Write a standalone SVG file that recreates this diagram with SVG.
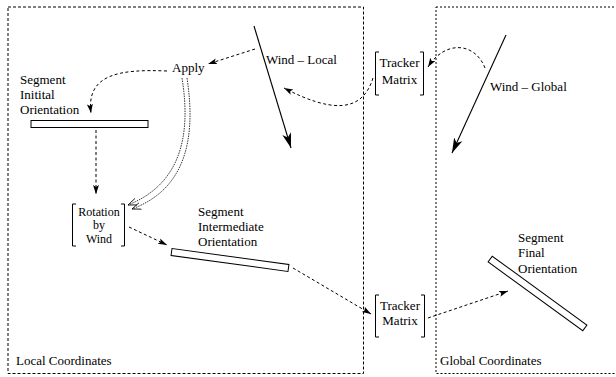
<svg xmlns="http://www.w3.org/2000/svg" width="616" height="377" viewBox="0 0 616 377">
<style>
text{font-family:'Liberation Serif','Times New Roman',Times,serif;font-size:13px;fill:#000}
.frame{fill:none;stroke:#000;stroke-width:1}
.local{stroke-dasharray:3,2}
.global{stroke-dasharray:2,2}
.dash{fill:none;stroke:#000;stroke-width:1;stroke-dasharray:3,2.5}
.dot{fill:none;stroke:#000;stroke-width:0.8;stroke-dasharray:1.5,1}
.wind{fill:none;stroke:#000;stroke-width:1.1}
.bar{fill:#fff;stroke:#000;stroke-width:1}
.br{fill:none;stroke:#000;stroke-width:1}
.tight{font-size:12px}
</style>
<defs>
<marker id="ah" markerUnits="userSpaceOnUse" markerWidth="10" markerHeight="8" viewBox="0 0 10 8" refX="9" refY="4" orient="auto">
<path d="M0,1 L9,4 L0,7 L2,4 Z" fill="#000"/>
</marker>
<marker id="big" markerUnits="userSpaceOnUse" markerWidth="16" markerHeight="10" viewBox="0 0 16 10" refX="15" refY="5" orient="auto">
<path d="M0,0.5 L15,5 L0,9.5 L4,5 Z" fill="#000"/>
</marker>
<marker id="open" markerUnits="userSpaceOnUse" markerWidth="10" markerHeight="8" viewBox="0 0 10 8" refX="9" refY="4" orient="auto">
<path d="M0,0.5 L9,4 L0,7.5" fill="none" stroke="#000" stroke-width="0.8"/>
</marker>
</defs>

<g font-family="Liberation Serif, Times New Roman, serif">
<g id="local-frame">
<rect class="frame local" x="8" y="7" width="355.5" height="366.5"/>
<text x="16" y="365">Local Coordinates</text>
</g>
<g id="global-frame">
<rect class="frame global" x="436" y="7" width="190" height="366.5"/>
<text x="440" y="365">Global Coordinates</text>
</g>

<g id="wind-local">
<line class="wind" x1="254" y1="26" x2="291" y2="148" marker-end="url(#big)"/>
<text x="266" y="64">Wind – Local</text>
</g>
<g id="wind-global">
<line class="wind" x1="506" y1="35" x2="452" y2="153" marker-end="url(#big)"/>
<text x="490" y="91">Wind – Global</text>
</g>

<g id="apply">
<text x="172" y="72">Apply</text>
</g>

<g id="segment-initial">
<text x="20" y="84">Segment</text>
<text x="20" y="99">Initital</text>
<text x="20" y="114">Orientation</text>
<rect class="bar" x="31" y="120.5" width="117" height="7"/>
</g>

<g id="rotation">
<path class="br" d="M76,204 H72.5 V246 H76"/>
<path class="br" d="M121,204 H124.5 V246 H121"/>
<text class="tight" x="99" y="215.5" text-anchor="middle">Rotation</text>
<text class="tight" x="99" y="229" text-anchor="middle">by</text>
<text class="tight" x="99" y="242.5" text-anchor="middle">Wind</text>
</g>

<g id="segment-intermediate">
<text x="198" y="216">Segment</text>
<text x="198" y="231">Intermediate</text>
<text x="198" y="246">Orientation</text>
<rect class="bar" x="-59" y="-3.5" width="118" height="7" transform="translate(230,260) rotate(7.8)"/>
</g>

<g id="tracker-upper">
<path class="br" d="M379,52 H375.5 V95 H379"/>
<path class="br" d="M420,52 H423.5 V95 H420"/>
<text x="399.5" y="67" text-anchor="middle">Tracker</text>
<text x="399.5" y="84" text-anchor="middle">Matrix</text>
</g>

<g id="tracker-lower">
<path class="br" d="M379,295 H375.5 V337 H379"/>
<path class="br" d="M421,295 H424.5 V337 H421"/>
<text x="400" y="310" text-anchor="middle">Tracker</text>
<text x="400" y="325" text-anchor="middle">Matrix</text>
</g>

<g id="segment-final">
<text x="518" y="242">Segment</text>
<text x="518" y="257">Final</text>
<text x="518" y="273">Orientation</text>
<rect class="bar" x="-58.5" y="-3.5" width="117" height="7" transform="translate(537.5,293.5) rotate(36)"/>
</g>
</g>

<g id="connectors">
<path class="dash" d="M255,49 L208,64" marker-end="url(#ah)"/>
<path class="dash" d="M167,71 C120,69 86,74 91,113" marker-end="url(#ah)"/>
<path class="dot" d="M182,78 C192,140 178,185 128,205" marker-end="url(#open)"/>
<path class="dot" d="M187,78 C197,143 183,190 132,209" marker-end="url(#open)"/>
<path class="dash" d="M96,130 L96,194" marker-end="url(#ah)"/>
<path class="dash" d="M129,227 L167,245" marker-end="url(#ah)"/>
<path class="dash" d="M293,268 L371,314" marker-end="url(#ah)"/>
<path class="dash" d="M428,318 L508,291" marker-end="url(#ah)"/>
<path class="dash" d="M373,78 C362,114 330,112 284,88" marker-end="url(#ah)"/>
<path class="dash" d="M485,68 C475,42 445,40 428,67" marker-end="url(#ah)"/>
</g>
</svg>
